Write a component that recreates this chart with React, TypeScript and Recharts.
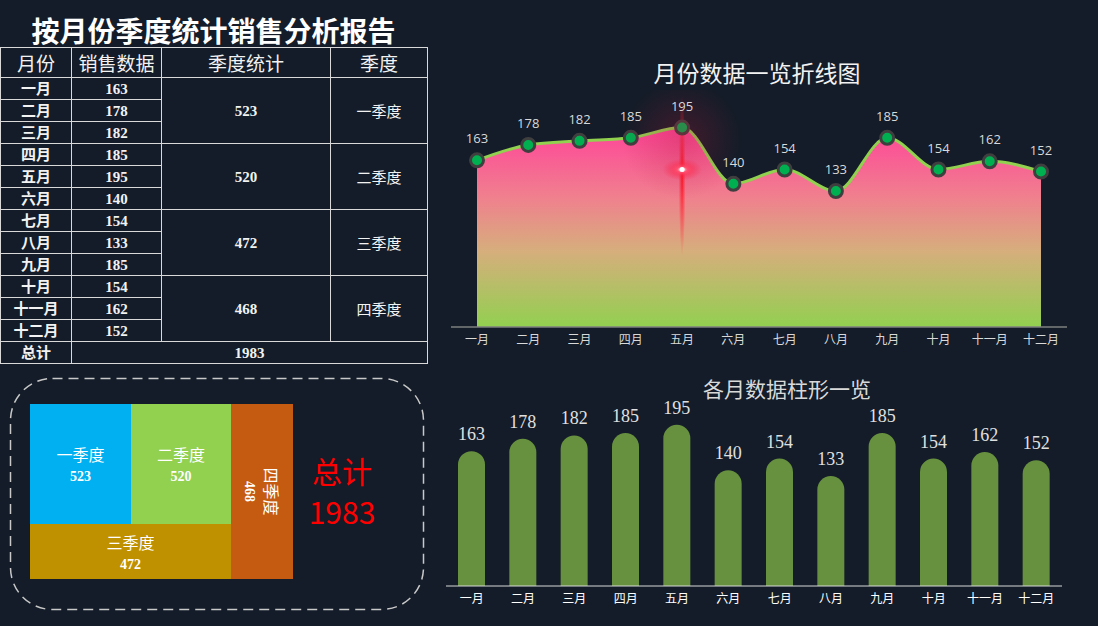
import React from "react";
import { AreaChart, Area, BarChart, Bar, XAxis, YAxis, LabelList, Treemap } from "recharts";

const months = ["一月", "二月", "三月", "四月", "五月", "六月", "七月", "八月", "九月", "十月", "十一月", "十二月"];
const sales = [163, 178, 182, 185, 195, 140, 154, 133, 185, 154, 162, 152];
const quarterNames = ["一季度", "二季度", "三季度", "四季度"];
const quarterTotals = [523, 520, 472, 468];
const grandTotal = 1983;
const quarterColors = ["#00b0f0", "#92d050", "#bf9000", "#c55a11"];

const BG = "#131c28";
const CJK = "'Noto Sans CJK SC', sans-serif";
const SERIF = "'Liberation Serif', 'Noto Sans CJK SC', serif";

const monthData = months.map((m, i) => ({ month: m, sales: sales[i] }));
const peak = Math.max(...sales);

// nested so the squarify lands Q1|Q2 over Q3 with Q4 on the side (box is drawn rotated)
const leaf = (q: number) => ({ name: quarterNames[q], value: quarterTotals[q], q });
const treeData = [
  { name: "前三季", children: [leaf(2), { name: "上半年", children: [leaf(0), leaf(1)] }] },
  leaf(3),
];

function QuarterCell(props: any) {
  const { x, y, width, height, q, name, value } = props;
  if (q === undefined) return <g />;
  const cx = x + width / 2;
  const cy = y + height / 2;
  const rot = q === 3 ? 180 : 90;
  return (
    <g>
      <rect x={x} y={y} width={width} height={height} fill={quarterColors[q]} />
      <g transform={`rotate(${rot} ${cx} ${cy})`}>
        <text x={cx} y={cy - 3} textAnchor="middle" fill="#fff" fontSize={16} fontFamily={CJK}>
          {name}
        </text>
        <text x={cx} y={cy + 17} textAnchor="middle" fill="#fff" fontSize={14} fontFamily={SERIF} fontWeight="bold">
          {value}
        </text>
      </g>
    </g>
  );
}

// the peak month gets the red sparkle underneath its point
function renderDot(props: any) {
  const { cx, cy, index, payload } = props;
  const dot = <circle cx={cx} cy={cy} r={6.5} fill="#00b050" stroke="#3f3f3f" strokeWidth={3} />;
  if (!payload || payload.sales !== peak) return <g key={`d${index}`}>{dot}</g>;
  return (
    <g key={`d${index}`}>
      <ellipse cx={cx} cy={cy + 48} rx={3.5} ry={80} fill="url(#streak)" />
      {dot}
      <circle cx={cx} cy={cy + 12} r={60} fill="url(#haze)" />
      <ellipse cx={cx} cy={cy + 42} rx={20} ry={11} fill="url(#flare)" />
      <circle cx={cx} cy={cy + 42} r={2.5} fill="#ffffff" />
    </g>
  );
}

function SalesTable() {
  const border = "1px solid #d9d9d9";
  const td: React.CSSProperties = { border, padding: 0, textAlign: "center", lineHeight: "20px", height: 21, overflow: "hidden", whiteSpace: "nowrap" };
  const th: React.CSSProperties = { ...td, height: 29, fontSize: 19, fontWeight: "normal", fontFamily: CJK, lineHeight: "28px" };
  const bold: React.CSSProperties = { ...td, fontWeight: "bold", fontSize: 15, fontFamily: SERIF };
  return (
    <table
      style={{
        position: "absolute",
        left: 0,
        top: 47,
        width: 427,
        borderCollapse: "collapse",
        tableLayout: "fixed",
        color: "#f2f2f2",
      }}
    >
      <colgroup>
        <col style={{ width: 71 }} />
        <col style={{ width: 90 }} />
        <col style={{ width: 169 }} />
        <col style={{ width: 97 }} />
      </colgroup>
      <tbody>
        <tr>
          <th style={th}>月份</th>
          <th style={th}>销售数据</th>
          <th style={th}>季度统计</th>
          <th style={th}>季度</th>
        </tr>
        {months.map((m, i) => (
          <tr key={m}>
            <td style={bold}>{m}</td>
            <td style={bold}>{sales[i]}</td>
            {i % 3 === 0 && (
              <td style={bold} rowSpan={3}>
                {quarterTotals[i / 3]}
              </td>
            )}
            {i % 3 === 0 && (
              <td style={{ ...td, fontSize: 15, fontFamily: CJK }} rowSpan={3}>
                {quarterNames[i / 3]}
              </td>
            )}
          </tr>
        ))}
        <tr>
          <td style={bold}>总计</td>
          <td style={bold} colSpan={3}>
            {grandTotal}
          </td>
        </tr>
      </tbody>
    </table>
  );
}

export default function App() {
  return (
    <div
      style={{
        position: "absolute",
        left: 0,
        top: 0,
        width: 1098,
        height: 626,
        background: BG,
        overflow: "hidden",
        fontFamily: CJK,
      }}
    >
      <div
        style={{
          position: "absolute",
          left: 0,
          top: 12,
          width: 427,
          textAlign: "center",
          fontSize: 28,
          fontWeight: "bold",
          lineHeight: "36px",
          color: "#ffffff",
        }}
      >
        按月份季度统计销售分析报告
      </div>

      <SalesTable />

      <svg style={{ position: "absolute", left: 0, top: 370 }} width={440} height={250}>
        <rect x={10.5} y={8.5} width={413} height={231} rx={42} fill="none" stroke="#c8c8c8" strokeWidth={1.5} strokeDasharray="10 6" />
      </svg>

      <div
        style={{
          position: "absolute",
          left: 74,
          top: 360,
          width: 175,
          height: 263,
          transform: "rotate(-90deg)",
        }}
      >
        <Treemap
          width={175}
          height={263}
          data={treeData}
          dataKey="value"
          nameKey="name"
          isAnimationActive={false}
          content={(p: any) => <QuarterCell {...p} />}
        />
      </div>

      <div style={{ position: "absolute", left: 292, top: 451, width: 100, textAlign: "center", color: "#ff0000", fontSize: 30, lineHeight: "38px" }}>
        总计
      </div>
      <div style={{ position: "absolute", left: 292, top: 492, width: 100, textAlign: "center", color: "#ff0000", fontSize: 30, lineHeight: "38px" }}>
        {grandTotal}
      </div>

      <div style={{ position: "absolute", left: 440, top: 56, width: 634, textAlign: "center", fontSize: 23, lineHeight: "32px", color: "#f2f2f2" }}>
        月份数据一览折线图
      </div>
      <div style={{ position: "absolute", left: 440, top: 90 }}>
        <AreaChart width={640} height={270} data={monthData} margin={{ top: 12, right: 13, bottom: 3, left: 11 }}>
          <defs>
            <linearGradient id="areaFill" x1="0" y1="0" x2="0" y2="1">
              <stop offset="0%" stopColor="#ff4499" />
              <stop offset="35%" stopColor="#f0808e" />
              <stop offset="62%" stopColor="#d6ae7c" />
              <stop offset="100%" stopColor="#92d050" />
            </linearGradient>
            <radialGradient id="haze">
              <stop offset="0%" stopColor="#b01838" stopOpacity={0.3} />
              <stop offset="100%" stopColor="#b01838" stopOpacity={0} />
            </radialGradient>
            <radialGradient id="streak">
              <stop offset="0%" stopColor="#ff1020" stopOpacity={0.95} />
              <stop offset="55%" stopColor="#ff2030" stopOpacity={0.45} />
              <stop offset="100%" stopColor="#ff2030" stopOpacity={0} />
            </radialGradient>
            <radialGradient id="flare">
              <stop offset="0%" stopColor="#ffffff" stopOpacity={1} />
              <stop offset="25%" stopColor="#ff5070" stopOpacity={0.95} />
              <stop offset="60%" stopColor="#ff2040" stopOpacity={0.35} />
              <stop offset="100%" stopColor="#ff2040" stopOpacity={0} />
            </radialGradient>
          </defs>
          <XAxis
            dataKey="month"
            padding={{ left: 26, right: 26 }}
            axisLine={{ stroke: "#7f7f7f", strokeWidth: 1.5 }}
            tickLine={false}
            tick={{ fill: "#d9d9d9", fontSize: 12 }}
            interval={0}
            height={30}
          />
          <YAxis hide domain={[0, 220]} />
          <Area
            type="monotone"
            dataKey="sales"
            stroke="#92d050"
            strokeWidth={3}
            fill="url(#areaFill)"
            fillOpacity={1}
            dot={renderDot}
            activeDot={false}
            isAnimationActive={false}
          >
            <LabelList dataKey="sales" position="top" offset={17} fill="#d9d9d9" fontSize={13} fontFamily="'Open Sans', sans-serif" />
          </Area>
        </AreaChart>
      </div>

      <div style={{ position: "absolute", left: 440, top: 373, width: 694, textAlign: "center", fontSize: 21, lineHeight: "30px", color: "#d9d9d9" }}>
        各月数据柱形一览
      </div>
      <div style={{ position: "absolute", left: 440, top: 380 }}>
        <BarChart width={640} height={240} data={monthData} margin={{ top: 24, right: 18, bottom: 4, left: 6 }}>
          <XAxis
            dataKey="month"
            axisLine={{ stroke: "#d9d9d9" }}
            tickLine={false}
            tick={{ fill: "#ffffff", fontSize: 12 }}
            interval={0}
            height={30}
          />
          <YAxis hide domain={[0, 220]} />
          <Bar dataKey="sales" fill="#67913f" barSize={27} radius={[13.5, 13.5, 0, 0]} isAnimationActive={false}>
            <LabelList dataKey="sales" position="top" offset={11} fill="#e0e0e0" fontSize={18} fontFamily="'Liberation Serif', serif" />
          </Bar>
        </BarChart>
      </div>
    </div>
  );
}
